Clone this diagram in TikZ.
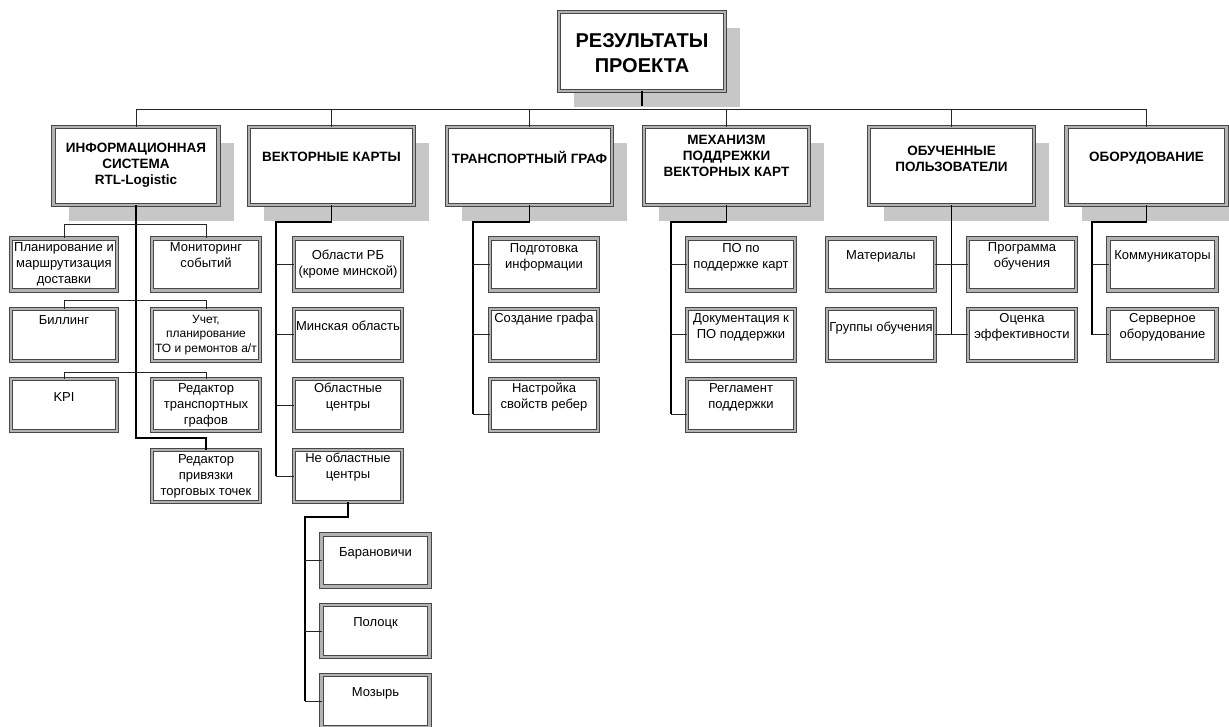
\documentclass[tikz,border=0pt]{standalone}
\usepackage{fontspec}
\setmainfont{Liberation Sans}
\usetikzlibrary{shadows,calc}
\tikzset{
  frame/.style={draw=black!72, double=black!30, line width=1pt, double distance=2.1pt, fill=white, inner sep=0pt, outer sep=0pt},
  shadowed/.style={drop shadow={shadow xshift=15pt, shadow yshift=-16pt, fill=black!22, opacity=1}},
  rootbox/.style={frame, minimum width=166pt, minimum height=79pt, shadowed},
  topbox/.style={frame, minimum width=165pt, minimum height=78pt, shadowed},
  childbox/.style={frame, minimum width=108pt, minimum height=52pt},
  ctxt/.style={font=\fontsize{13}{16}\selectfont, align=center, inner sep=0pt, anchor=north},
  stxt/.style={font=\fontsize{12}{14.5}\selectfont, align=center, inner sep=0pt, anchor=north},
  ttxt/.style={font=\fontsize{13.5}{16}\selectfont\bfseries, align=center, inner sep=0pt, anchor=north},
  rtxt/.style={font=\fontsize{20}{25}\selectfont\bfseries, align=center, inner sep=0pt, anchor=north},
  bus/.style={line width=1pt, draw=black!85},
  trunk/.style={line width=1.8pt, draw=black},
  branch/.style={line width=1pt, draw=black!85},
}
\begin{document}
\begin{tikzpicture}[x=1pt,y=-1pt]
\clip (0,0) rectangle (1229,727);
\fill[white] (0,0) rectangle (1229,727);
% root and top-level boxes
\node[rootbox] (root) at (642,51.5) {};
\node[topbox] (t1) at (136,166) {};
\node[topbox] (t2) at (331.5,166) {};
\node[topbox] (t3) at (529.5,166) {};
\node[topbox] (t4) at (726.5,166) {};
\node[topbox] (t5) at (951.5,166) {};
\node[topbox, minimum width=160pt] (t6) at (1146.5,166) {};
% information system children
\node[childbox, minimum width=106pt] (i1) at (64,264.5) {};
\node[childbox] (i2) at (206,264.5) {};
\node[childbox, minimum width=106pt] (i3) at (64,335) {};
\node[childbox] (i4) at (206,335) {};
\node[childbox, minimum width=106pt] (i5) at (64,405) {};
\node[childbox] (i6) at (206,405) {};
\node[childbox] (i7) at (206,476) {};
% vector maps children
\node[childbox] (v1) at (348,264.5) {};
\node[childbox] (v2) at (348,335) {};
\node[childbox] (v3) at (348,405) {};
\node[childbox] (v4) at (348,476) {};
\node[childbox] (s1) at (375.5,560.5) {};
\node[childbox] (s2) at (375.5,631) {};
\node[childbox] (s3) at (375.5,701) {};
% transport graph children
\node[childbox] (p1) at (544,264.5) {};
\node[childbox] (p2) at (544,335) {};
\node[childbox] (p3) at (544,405) {};
% mechanism children
\node[childbox] (m1) at (741,264.5) {};
\node[childbox] (m2) at (741,335) {};
\node[childbox] (m3) at (741,405) {};
% trained users children
\node[childbox] (e1) at (881,264.5) {};
\node[childbox] (e2) at (1022,264.5) {};
\node[childbox] (e3) at (881,335) {};
\node[childbox] (e4) at (1022,335) {};
% equipment children
\node[childbox] (q1) at (1162.5,264.5) {};
\node[childbox] (q2) at (1162.5,335) {};

% connectors: root to top level
\draw[trunk] (root.south) -- ++(0,15);
\draw[bus] (t1.north) -- ++(0,-17) -| (t6.north);
\foreach \n in {t2,t3,t4,t5} \draw[bus] (\n.north) -- ++(0,-17);
% information system
\draw[trunk] (t1.south) -- ++(0,233) -| (i7.north);
\draw[branch] (i1.north) -- ++(0,-14) -| (i2.north);
\draw[branch] (i3.north) -- ++(0,-8) -| (i4.north);
\draw[branch] (i5.north) -- ++(0,-7) -| (i6.north);
% vector maps
\coordinate (vt) at (276,222);
\draw[trunk] (t2.south) |- (vt) -- (vt |- v4.west);
\foreach \n in {v1,v2,v3,v4} \draw[branch] (vt |- \n.west) -- (\n.west);
\coordinate (st) at (305,517);
\draw[trunk] (v4.south) |- (st) -- (st |- s3.west);
\foreach \n in {s1,s2,s3} \draw[branch] (st |- \n.west) -- (\n.west);
% transport graph
\coordinate (tt) at (473,222);
\draw[trunk] (t3.south) |- (tt) -- (tt |- 0,414);
\foreach \n in {p1,p2} \draw[branch] (tt |- \n.west) -- (\n.west);
\draw[branch] (tt |- 0,414) -- ($(p3.west)+(0,9)$);
% mechanism
\coordinate (mt) at (671,222);
\draw[trunk] (t4.south) |- (mt) -- (mt |- 0,414);
\foreach \n in {m1,m2} \draw[branch] (mt |- \n.west) -- (\n.west);
\draw[branch] (mt |- 0,414) -- ($(m3.west)+(0,9)$);
% trained users
\draw[trunk] (t5.south) -- (t5.south |- e3.east);
\draw[branch] (e1.east) -- (e2.west);
\draw[branch] (e3.east) -- (e4.west);
% equipment
\coordinate (qt) at (1092,222);
\draw[trunk] (t6.south) |- (qt) -- (qt |- q2.west);
\foreach \n in {q1,q2} \draw[branch] (qt |- \n.west) -- (\n.west);

% texts
\node[rtxt] (troot) at (642,29.7) {\strut РЕЗУЛЬТАТЫ\\ПРОЕКТА};
\node[ttxt] (tt1) at (136,141.6) {\strut ИНФОРМАЦИОННАЯ\\СИСТЕМА\\RTL-Logistic};
\node[ttxt] (tt2) at (331.5,150.6) {\strut ВЕКТОРНЫЕ КАРТЫ};
\node[ttxt] (tt3) at (529.5,150.6) {\strut ТРАНСПОРТНЫЙ ГРАФ};
\node[ttxt] (tt4) at (726.5,133.6) {\strut МЕХАНИЗМ\\ПОДДРЕЖКИ\\ВЕКТОРНЫХ КАРТ};
\node[ttxt] (tt5) at (951.5,144.6) {\strut ОБУЧЕННЫЕ\\ПОЛЬЗОВАТЕЛИ};
\node[ttxt] (tt6) at (1146.5,150.6) {\strut ОБОРУДОВАНИЕ};

\node[ctxt] (ti1) at (64,240.5) {\strut Планирование и\\маршрутизация\\доставки};
\node[ctxt] (ti2) at (206,240.5) {\strut Мониторинг\\событий};
\node[ctxt] (ti3) at (64,313.5) {\strut Биллинг};
\node[stxt] (ti4) at (206,313) {\strut Учет,\\планирование\\ТО и ремонтов а/т};
\node[ctxt] (ti5) at (64,390.5) {\strut KPI};
\node[ctxt] (ti6) at (206,381.5) {\strut Редактор\\транспортных\\графов};
\node[ctxt] (ti7) at (206,452.5) {\strut Редактор\\привязки\\торговых точек};

\node[ctxt] (tv1) at (348,248.5) {\strut Области РБ\\(кроме минской)};
\node[ctxt] (tv2) at (348,319.5) {\strut Минская область};
\node[ctxt] (tv3) at (348,381.5) {\strut Областные\\центры};
\node[ctxt] (tv4) at (348,451.5) {\strut Не областные\\центры};
\node[ctxt] (ts1) at (375.5,545.5) {\strut Барановичи};
\node[ctxt] (ts2) at (375.5,615.5) {\strut Полоцк};
\node[ctxt] (ts3) at (375.5,685.5) {\strut Мозырь};

\node[ctxt] (tp1) at (544,241.5) {\strut Подготовка\\информации};
\node[ctxt] (tp2) at (544,311.5) {\strut Создание графа};
\node[ctxt] (tp3) at (544,381.5) {\strut Настройка\\свойств ребер};

\node[ctxt] (tm1) at (741,241.5) {\strut ПО по\\поддержке карт};
\node[ctxt] (tm2) at (741,311.5) {\strut Документация к\\ПО поддержки};
\node[ctxt] (tm3) at (741,381.5) {\strut Регламент\\поддержки};

\node[ctxt] (te1) at (881,248.5) {\strut Материалы};
\node[ctxt] (te2) at (1022,240.5) {\strut Программа\\обучения};
\node[ctxt] (te3) at (881,320.5) {\strut Группы обучения};
\node[ctxt] (te4) at (1022,311.5) {\strut Оценка\\эффективности};

\node[ctxt] (tq1) at (1162.5,248.5) {\strut Коммуникаторы};
\node[ctxt] (tq2) at (1162.5,311.5) {\strut Серверное\\оборудование};
\end{tikzpicture}
\end{document}
